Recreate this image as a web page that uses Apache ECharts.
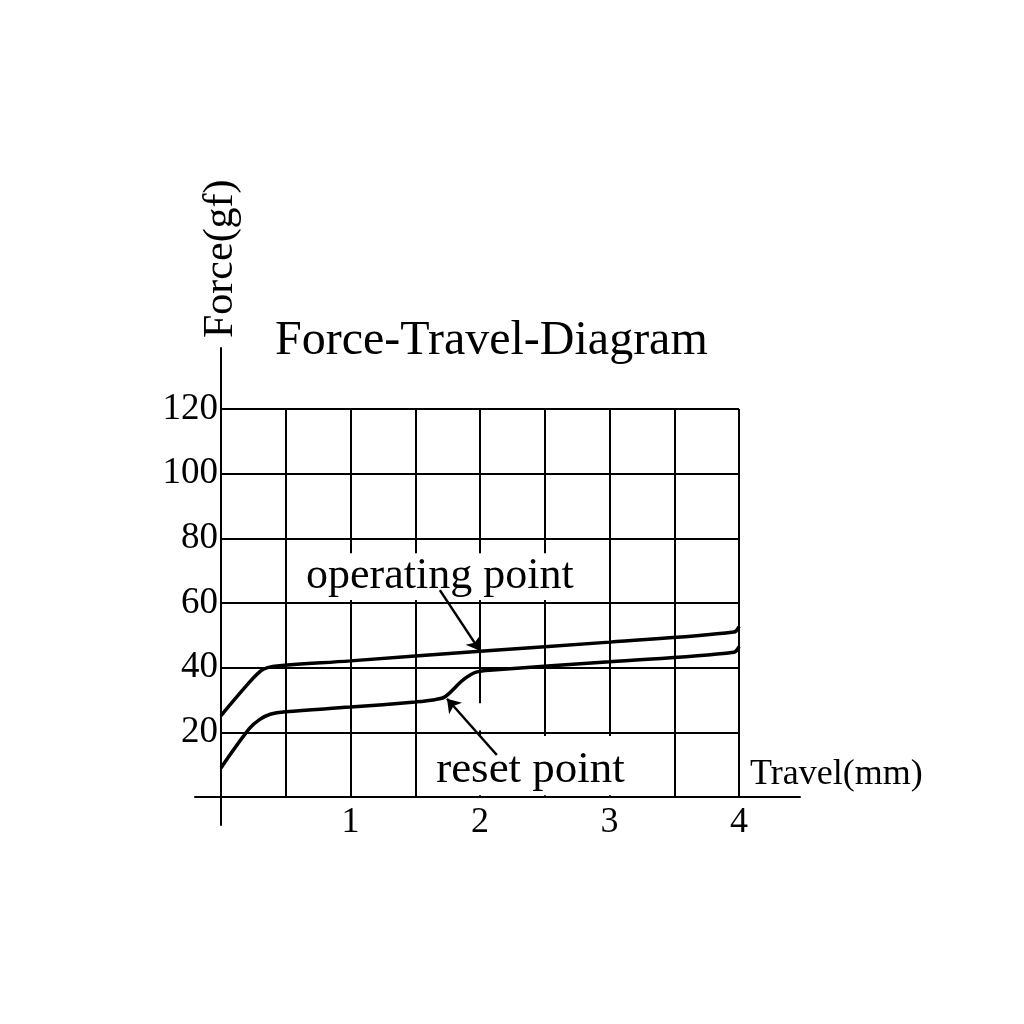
<!DOCTYPE html>
<html>
<head>
<meta charset="utf-8">
<script src="https://cdn.jsdelivr.net/npm/echarts@6/dist/echarts.min.js"></script>
<style>html,body{margin:0;padding:0;background:#fff;}#c{width:1024px;height:1024px;}</style>
</head>
<body>
<div id="c"></div>
<script>
// ---- data ----
const opTravel  = [0, 0.2, 0.3, 0.36, 0.45, 1, 2, 3, 3.96, 4.0];
const opForce   = [25.2, 34.6, 38.8, 40.0, 40.6, 42.1, 45.1, 47.9, 51.0, 52.7];
const rsTravel  = [0, 0.22, 0.3, 0.38, 0.5, 1, 1.5, 1.65, 1.73, 1.87, 1.97, 2.1, 3, 3.96, 4.0];
const rsForce   = [9.0, 21.2, 24.0, 25.6, 26.4, 27.8, 29.4, 30.1, 31.0, 36.2, 38.6, 39.3, 41.8, 44.8, 46.5];
const xTickLabels = [1, 2, 3, 4];
const yTickLabels = [20, 40, 60, 80, 100, 120];
const titleText = 'Force-Travel-Diagram';
const xName = 'Travel(mm)';
const yName = 'Force(gf)';
const opLabel = 'operating point';
const rsLabel = 'reset point';
// annotation anchors in data units
const opLabelAt = [1.69, 68.3];
const rsLabelAt = [2.39, 8.4];
const opArrow = [[1.69, 64.0], [2.0, 45.2]];
const rsArrow = [[2.13, 13.0], [1.745, 30.4]];

const FONT = "'Liberation Serif','Times New Roman',serif";
const chart = echarts.init(document.getElementById('c'), null, {renderer: 'canvas'});
const pairs = (xs, ys) => xs.map((x, i) => [x, ys[i]]);

const option = {
  animation: false,
  backgroundColor: '#fff',
  title: {
    text: titleText, left: 270, top: 312,
    textStyle: {fontSize: 48, fontWeight: 'normal', fontFamily: FONT, color: '#000'}
  },
  grid: [
    {left: 221, top: 409, width: 518, height: 388, containLabel: false},
    {left: 195, top: 348, width: 605, height: 477, containLabel: false}
  ],
  xAxis: [
    {
      gridIndex: 0, type: 'value', min: 0, max: 4, interval: 0.5,
      axisLine: {show: false}, axisTick: {show: false},
      axisLabel: {
        fontSize: 36, fontFamily: FONT, color: '#000', margin: 8,
        formatter: v => xTickLabels.indexOf(v) >= 0 ? String(v) : ''
      },
      splitLine: {show: true, lineStyle: {color: '#000', width: 2}}
    },
    {
      gridIndex: 1, type: 'value', min: -0.2006, max: 4.4676,
      axisLine: {show: true, onZero: true, lineStyle: {color: '#000', width: 2}},
      axisTick: {show: false}, axisLabel: {show: false}, splitLine: {show: false},
      name: xName, nameLocation: 'end', nameGap: -50,
      nameTextStyle: {fontSize: 36, fontFamily: FONT, color: '#000', verticalAlign: 'bottom', padding: [0, 0, 4, 0]}
    }
  ],
  yAxis: [
    {
      gridIndex: 0, type: 'value', min: 0, max: 120, interval: 20,
      axisLine: {show: false}, axisTick: {show: false},
      axisLabel: {
        fontSize: 37, fontFamily: FONT, color: '#000', margin: 3,
        formatter: v => yTickLabels.indexOf(v) >= 0 ? String(v) : ''
      },
      splitLine: {show: true, lineStyle: {color: '#000', width: 2}}
    },
    {
      gridIndex: 1, type: 'value', min: -8.66, max: 138.8,
      axisLine: {show: true, onZero: true, lineStyle: {color: '#000', width: 2}},
      axisTick: {show: false}, axisLabel: {show: false}, splitLine: {show: false},
      name: yName, nameLocation: 'end', nameGap: 10, nameRotate: 90,
      nameTextStyle: {fontSize: 42, fontFamily: FONT, color: '#000'}
    }
  ],
  series: [
    {
      name: 'masks', type: 'line', xAxisIndex: 0, yAxisIndex: 0, data: [], z: 1,
      silent: true,
      markArea: {
        silent: true,
        itemStyle: {color: '#fff', opacity: 1},
        label: {show: false},
        data: [
          [{coord: [0.579, 60.9]}, {coord: [2.755, 75.4]}],
          [{coord: [1.535, 0.55]}, {coord: [3.48, 18.9]}],
          [{coord: [1.985, 20.6]}, {coord: [2.015, 29.0]}]
        ]
      }
    },
    {
      name: 'operating', type: 'line', xAxisIndex: 0, yAxisIndex: 0, z: 2,
      data: pairs(opTravel, opForce), smooth: 0.35,
      showSymbol: false, symbol: 'none',
      lineStyle: {color: '#000', width: 3.5}
    },
    {
      name: 'reset', type: 'line', xAxisIndex: 0, yAxisIndex: 0, z: 2,
      data: pairs(rsTravel, rsForce), smooth: 0.35,
      showSymbol: false, symbol: 'none',
      lineStyle: {color: '#000', width: 3.5}
    },
    {
      name: 'notes', type: 'line', xAxisIndex: 0, yAxisIndex: 0, data: [], z: 3,
      silent: true,
      markLine: {
        silent: true, symbol: ['none', 'arrow'], symbolSize: 13,
        lineStyle: {color: '#000', width: 2.5, type: 'solid'},
        label: {show: false},
        data: [
          [{coord: opArrow[0]}, {coord: opArrow[1]}],
          [{coord: rsArrow[0]}, {coord: rsArrow[1]}]
        ]
      },
      markPoint: {
        silent: true, symbol: 'circle', symbolSize: 1,
        itemStyle: {color: 'rgba(0,0,0,0)'},
        data: [
          {name: opLabel, coord: opLabelAt,
           label: {show: true, position: 'inside', formatter: p => p.name, fontSize: 44, fontFamily: FONT, color: '#000'}},
          {name: rsLabel, coord: rsLabelAt,
           label: {show: true, position: 'inside', formatter: p => p.name, fontSize: 45, fontFamily: FONT, color: '#000'}}
        ]
      }
    }
  ]
};
chart.setOption(option);
</script>
</body>
</html>
